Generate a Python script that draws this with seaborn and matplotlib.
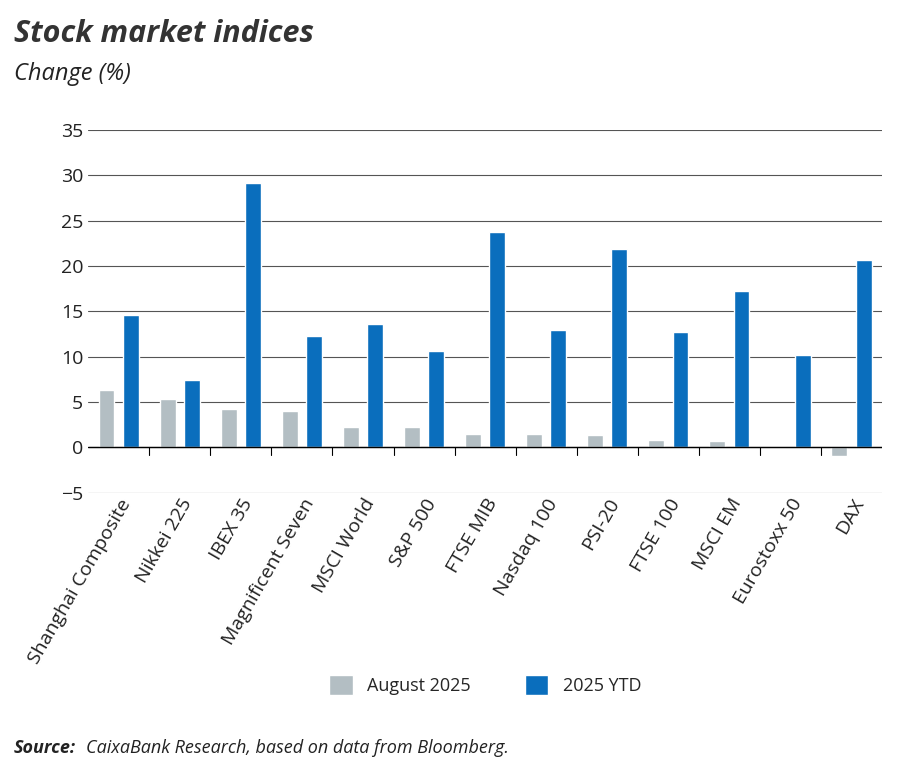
import matplotlib
matplotlib.use("Agg")
import matplotlib.pyplot as plt
import seaborn as sns
import pandas as pd

categories = ["Shanghai Composite", "Nikkei 225", "IBEX 35", "Magnificent Seven", "MSCI World",
              "S&P 500", "FTSE MIB", "Nasdaq 100", "PSI-20", "FTSE 100", "MSCI EM", "Eurostoxx 50", "DAX"]
august = [6.3, 5.3, 4.2, 4.0, 2.3, 2.2, 1.5, 1.5, 1.4, 0.8, 0.7, 0.05, -1.0]
ytd = [14.6, 7.4, 29.2, 12.3, 13.6, 10.6, 23.7, 12.9, 21.9, 12.7, 17.2, 10.2, 20.7]
series = ["August 2025", "2025 YTD"]

df = pd.DataFrame({"cat": categories * 2,
                   "val": august + ytd,
                   "series": [series[0]] * len(categories) + [series[1]] * len(categories)})

sns.set_theme(style="white")
plt.rcParams['font.family'] = ['Open Sans', 'DejaVu Sans']

fig = plt.figure(figsize=(9, 7.64), dpi=100)
ax = fig.add_axes([0.098, 0.355, 0.882, 0.475])
sns.barplot(data=df, x="cat", y="val", hue="series", palette=["#b3bec3", "#0a6ebd"],
            width=0.8, gap=0.35, ax=ax, legend=True, saturation=1)
ax.set_ylim(-5, 35)
ax.set_yticks(range(-5, 36, 5))
ax.set_xlim(-0.5, len(categories) - 0.5)
ax.yaxis.grid(True, color="#555555", linewidth=0.8)
ax.set_axisbelow(True)
for s in ax.spines.values():
    s.set_visible(False)
ax.axhline(0, color="black", linewidth=1)
ax.set_xlabel("")
ax.set_ylabel("")
ax.tick_params(axis="y", length=0, labelsize=14, colors="#222222")
ax.tick_params(axis="x", length=0, labelsize=14, colors="#222222", pad=2)
plt.setp(ax.get_xticklabels(), rotation=60, ha="right", rotation_mode="anchor")
for i in range(len(categories) - 1):
    ax.plot([i + 0.5, i + 0.5], [0, -0.8], color="black", linewidth=0.8)

handles, labels = ax.get_legend_handles_labels()
ax.legend(handles, labels, loc="center", bbox_to_anchor=(0.5, -0.53), ncol=2, frameon=False,
          fontsize=13, handlelength=1.3, handleheight=1.3, columnspacing=3)

fig.text(0.015, 0.945, "Stock market indices", fontsize=22, fontweight="bold", style="italic", color="#333333")
fig.text(0.015, 0.895, "Change (%)", fontsize=17, style="italic", color="#222222")
fig.text(0.015, 0.015, "Source:", fontsize=13, fontweight="bold", style="italic", color="#222222")
fig.text(0.095, 0.015, "CaixaBank Research, based on data from Bloomberg.", fontsize=13, style="italic", color="#222222")

fig.savefig("out.png", dpi=100)
